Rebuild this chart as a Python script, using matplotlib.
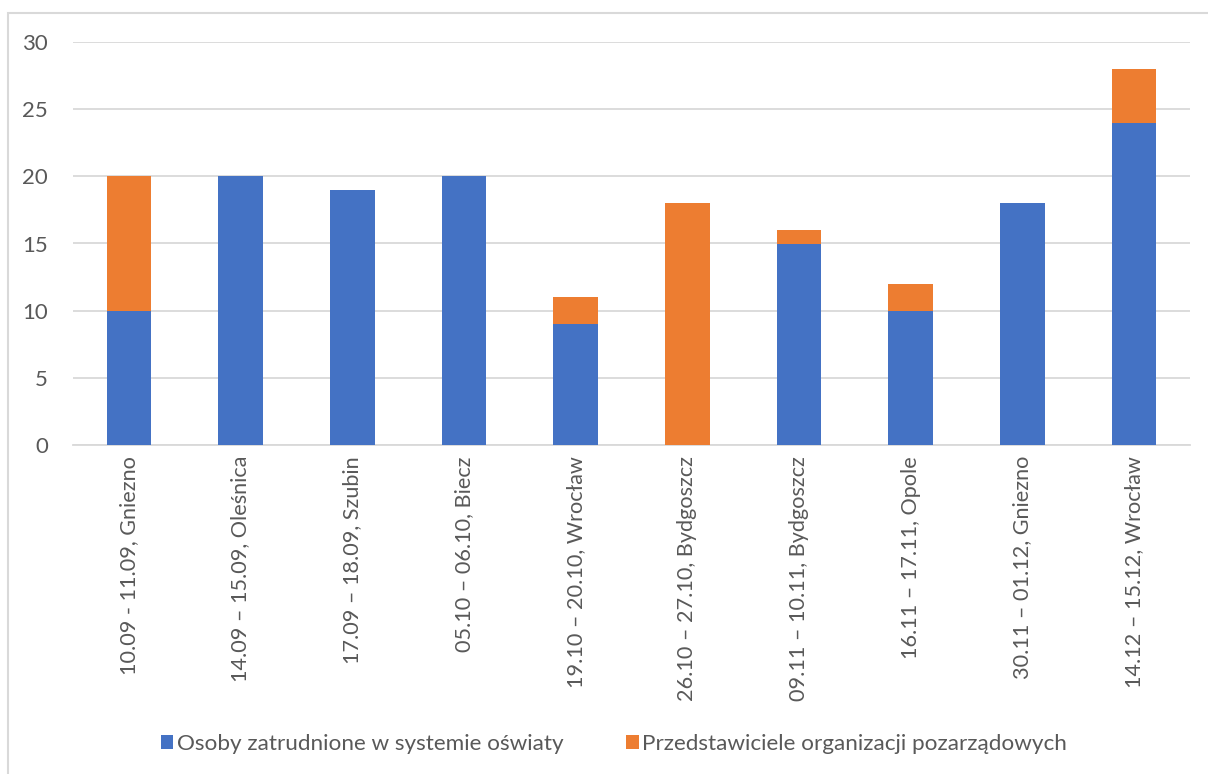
import matplotlib
matplotlib.use("Agg")
import matplotlib.pyplot as plt
from matplotlib.patches import Rectangle
import numpy as np

labels = [
    "10.09 - 11.09, Gniezno",
    "14.09 \u2013 15.09, Oleśnica",
    "17.09 \u2013 18.09, Szubin",
    "05.10 \u2013 06.10, Biecz",
    "19.10 \u2013 20.10, Wrocław",
    "26.10 \u2013 27.10, Bydgoszcz",
    "09.11 \u2013 10.11, Bydgoszcz",
    "16.11 \u2013 17.11, Opole",
    "30.11 \u2013 01.12, Gniezno",
    "14.12 \u2013 15.12, Wrocław",
]
oswiata = [10, 20, 19, 20, 9, 0, 15, 10, 18, 24]
ngo = [10, 0, 0, 0, 2, 18, 1, 2, 0, 4]

series_names = [
    "Osoby zatrudnione w systemie oświaty",
    "Przedstawiciele organizacji pozarządowych",
]

BLUE = "#4472C4"
ORANGE = "#ED7D31"
TEXT = "#595959"
GRID = "#D9D9D9"

plt.rcParams["font.family"] = ["Lato", "DejaVu Sans"]

W, H = 1208, 774
fig = plt.figure(figsize=(W / 100, H / 100), dpi=100)
ax = fig.add_axes([73 / W, 1 - 445 / H, (1190 - 73) / W, (445 - 42) / H])

x = np.arange(len(labels))
ax.bar(x, oswiata, width=0.4, color=BLUE, label=series_names[0], zorder=3)
ax.bar(x, ngo, width=0.4, bottom=oswiata, color=ORANGE, label=series_names[1], zorder=3)

ax.set_xlim(-0.5, len(labels) - 0.5)
ax.set_ylim(0, 30)
ax.set_yticks(range(0, 31, 5))
ax.grid(axis="y", color=GRID, linewidth=1.3, zorder=0)
for side in ("top", "right", "left"):
    ax.spines[side].set_visible(False)
ax.spines["bottom"].set_color(GRID)
ax.spines["bottom"].set_linewidth(1.3)

ax.set_xticks(x)
ax.set_xticklabels(labels, rotation=90, fontsize=15.6, color=TEXT)
ax.tick_params(axis="x", length=0, pad=8)
ax.tick_params(axis="y", length=0, pad=18, labelsize=16, labelcolor=TEXT)

leg = fig.legend(
    loc="center", bbox_to_anchor=(614 / W, 1 - 744 / H), ncol=2, frameon=False,
    fontsize=16.2, handlelength=0.55, handleheight=0.55, handletextpad=0.15,
    columnspacing=2.8,
)
for t in leg.get_texts():
    t.set_color(TEXT)

# chart area border
fig.patches.append(Rectangle((8 / W, -0.1), 1.2, 1 - 13 / H + 0.1, transform=fig.transFigure,
                             fill=False, edgecolor=GRID, linewidth=1.5))

fig.savefig("out.png", dpi=100)
